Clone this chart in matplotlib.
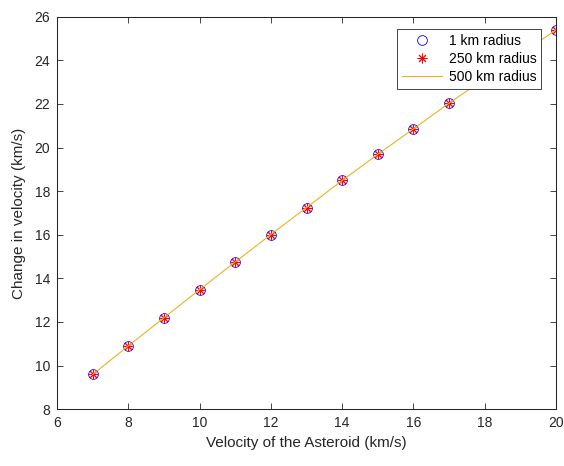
import matplotlib
matplotlib.use("Agg")
import matplotlib.pyplot as plt

plt.rcParams['font.family'] = ['Liberation Sans', 'DejaVu Sans']

velocity = [7, 8, 9, 10, 11, 12, 13, 14, 15, 16, 17, 20]
dv_1km = [9.59, 10.90, 12.19, 13.48, 14.75, 16.01, 17.25, 18.49, 19.69, 20.86, 22.04, 25.40]
dv_250km = [9.59, 10.90, 12.19, 13.48, 14.75, 16.01, 17.25, 18.49, 19.69, 20.86, 22.04, 25.40]
dv_500km = [9.59, 10.90, 12.19, 13.48, 14.75, 16.01, 17.25, 18.49, 19.69, 20.86, 22.04, 25.40]
labels = ['1 km radius', '250 km radius', '500 km radius']

fig = plt.figure(figsize=(5.64, 4.66), dpi=100)
ax = fig.add_axes([0.101, 0.122, 0.885, 0.842])

ax.plot(velocity, dv_1km, linestyle='none', marker='o', markersize=7,
        markerfacecolor='none', markeredgecolor='#0000ff', markeredgewidth=0.6,
        label=labels[0])
ax.plot(velocity, dv_250km, linestyle='none', marker=(8, 2, 0), markersize=7,
        markeredgecolor='#ff0000', markeredgewidth=0.7, color='#ff0000',
        label=labels[1])
ax.plot(velocity, dv_500km, color='#EDB120', linewidth=0.8, label=labels[2])

ax.set_xlim(6, 20)
ax.set_ylim(8, 26)
ax.set_xticks(range(6, 21, 2))
ax.set_yticks(range(8, 27, 2))

for s in ax.spines.values():
    s.set_color('#262626')
    s.set_linewidth(0.75)
ax.tick_params(direction='in', top=True, right=True, length=4, width=0.6,
               colors='#262626', labelsize=10, labelcolor='#262626', pad=5)

ax.set_xlabel('Velocity of the Asteroid (km/s)', fontsize=11, color='#262626', labelpad=4)
ax.set_ylabel('Change in velocity (km/s)', fontsize=11, color='#262626', labelpad=6)

leg = ax.legend(loc='upper right', bbox_to_anchor=(0.970, 0.969), fontsize=10,
                fancybox=False, framealpha=1, edgecolor='#262626',
                borderpad=0.35, labelspacing=0.3, handlelength=2.9,
                handletextpad=0.45, borderaxespad=0)
leg.get_frame().set_linewidth(0.6)

fig.savefig('out.png', dpi=100)
